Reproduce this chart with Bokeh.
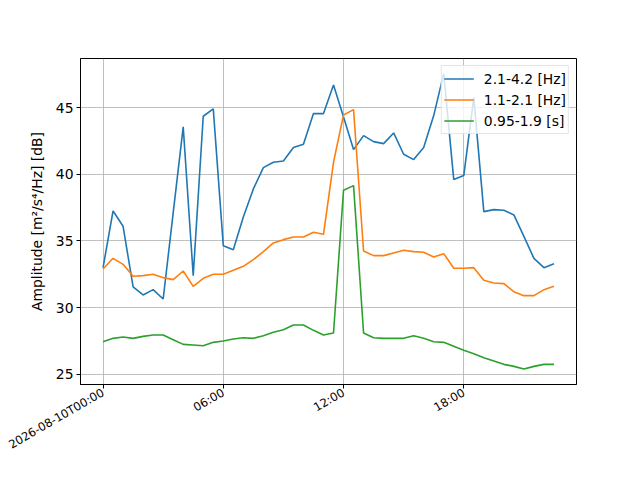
import pandas as pd
from bokeh.plotting import figure
from bokeh.models import Range1d, FixedTicker, Legend, LegendItem
from bokeh.embed import file_html
from bokeh.resources import INLINE

# ---- data ----
times = pd.date_range("2026-08-10 00:00", periods=46, freq="30min")

band_hi = [33.0, 37.25, 36.1, 31.55, 30.95, 31.35, 30.65, 37.1, 43.55, 32.4,
           44.35, 44.9, 34.65, 34.35, 36.8, 38.9, 40.5, 40.9, 41.0, 42.0,
           42.25, 44.55, 44.55, 46.7, 44.3, 41.85, 42.9, 42.45, 42.3, 43.1,
           41.5, 41.1, 42.0, 44.4, 47.55, 39.6, 39.9, 45.75, 37.2, 37.35,
           37.3, 36.95, 35.35, 33.7, 33.0, 33.3]
band_mid = [32.9, 33.7, 33.25, 32.35, 32.4, 32.5, 32.25, 32.1, 32.75, 31.6,
            32.2, 32.5, 32.5, 32.8, 33.1, 33.6, 34.2, 34.85, 35.1, 35.3,
            35.3, 35.65, 35.5, 40.9, 44.45, 44.85, 34.25, 33.9, 33.9, 34.1,
            34.3, 34.2, 34.15, 33.8, 34.05, 32.95, 32.95, 33.0, 32.05, 31.85,
            31.8, 31.2, 30.9, 30.9, 31.35, 31.6]
band_lo = [27.45, 27.7, 27.8, 27.7, 27.85, 27.95, 27.95, 27.6, 27.25, 27.2,
           27.15, 27.4, 27.5, 27.65, 27.75, 27.7, 27.9, 28.15, 28.35, 28.7,
           28.7, 28.3, 27.95, 28.1, 38.8, 39.15, 28.1, 27.75, 27.7, 27.7,
           27.7, 27.9, 27.7, 27.45, 27.4, 27.1, 26.8, 26.55, 26.25, 26.0,
           25.75, 25.6, 25.4, 25.6, 25.75, 25.75]

series_labels = ["2.1-4.2 [Hz]", "1.1-2.1 [Hz]", "0.95-1.9 [s]"]
series_colors = ["#1f77b4", "#ff7f0e", "#2ca02c"]

tick_times = pd.to_datetime(["2026-08-10 00:00", "2026-08-10 06:00",
                             "2026-08-10 12:00", "2026-08-10 18:00"])
tick_labels = ["2026-08-10T00:00", "06:00", "12:00", "18:00"]
y_ticks = [25, 30, 35, 40, 45]

FONT = "DejaVu Sans"

def ms(t):
    return pd.Timestamp(t).value / 1e6

x_start = ms(times[0] - pd.Timedelta(minutes=67.5))
x_end = ms(times[-1] + pd.Timedelta(minutes=67.5))

p = figure(width=624, height=464, x_axis_type="datetime",
           output_backend="svg", toolbar_location=None,
           x_range=Range1d(x_start, x_end), y_range=Range1d(24.24, 48.68),
           min_border_left=80, min_border_right=48,
           min_border_top=58, min_border_bottom=80)

renderers = []
for vals, col in zip([band_hi, band_mid, band_lo], series_colors):
    r = p.line(times, vals, line_color=col, line_width=1.6)
    renderers.append(r)

legend = Legend(items=[LegendItem(label=l, renderers=[r])
                       for l, r in zip(series_labels, renderers)],
                location="top_right")
legend.label_text_font = FONT
legend.label_text_font_size = "13.9px"
legend.label_text_color = "black"
legend.glyph_width = 30
legend.glyph_height = 21
legend.label_height = 21
legend.label_standoff = 10
legend.spacing = 0
legend.padding = 2
legend.margin = 7
legend.border_line_color = "#cccccc"
legend.border_line_width = 1
legend.background_fill_alpha = 0.8
p.add_layout(legend)

p.outline_line_color = "black"
p.outline_line_alpha = 1
p.outline_line_width = 1

for g in (p.xgrid, p.ygrid):
    g.grid_line_color = "#b0b0b0"
    g.grid_line_width = 0.8

p.xaxis.ticker = FixedTicker(ticks=[ms(t) for t in tick_times])
p.xaxis.major_label_overrides = {ms(t): l for t, l in zip(tick_times, tick_labels)}
p.xaxis.major_label_orientation = 0.5236
p.xaxis.major_label_text_font_size = "11.6px"

p.yaxis.ticker = FixedTicker(ticks=y_ticks)
p.yaxis.axis_label = "Amplitude [m²/s⁴/Hz] [dB]"
p.yaxis.axis_label_text_font = FONT
p.yaxis.axis_label_text_font_size = "13.9px"
p.yaxis.axis_label_text_font_style = "normal"
p.yaxis.axis_label_text_color = "black"
p.yaxis.axis_label_standoff = 8
p.yaxis.major_label_text_font_size = "13.9px"

for ax in (p.xaxis, p.yaxis):
    ax.major_label_text_font = FONT
    ax.major_label_text_color = "black"
    ax.axis_line_color = "black"
    ax.major_tick_line_color = "black"
    ax.major_tick_out = 4
    ax.major_tick_in = 0
    ax.minor_tick_line_color = None
    ax.major_label_standoff = 3

open("out.html", "w").write(file_html(p, INLINE))
